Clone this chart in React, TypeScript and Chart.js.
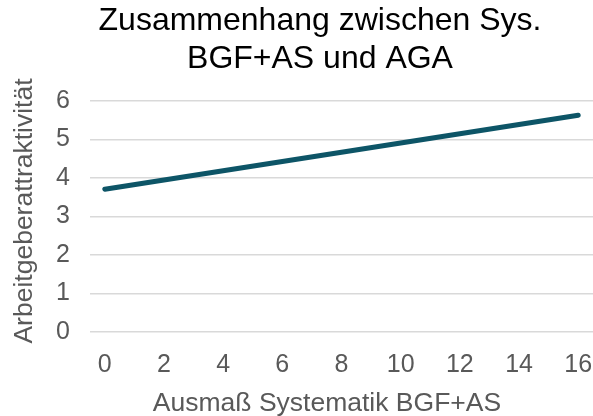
import React, { useEffect, useRef } from "react";
import { Chart, registerables } from "chart.js";

Chart.register(...registerables);

const xValues = [0, 16];
const yValues = [3.71, 5.63];
const xTicks = [0, 2, 4, 6, 8, 10, 12, 14, 16];
const titleLines = ["Zusammenhang zwischen Sys.", "BGF+AS und AGA"];
const xTitle = "Ausmaß Systematik BGF+AS";
const yTitle = "Arbeitgeberattraktivität";

const FONT = "'Liberation Sans', Arial, sans-serif";

const textPlugin = {
  id: "customTexts",
  afterDraw(chart: any) {
    const ctx = chart.ctx;
    ctx.save();
    ctx.fillStyle = "#000000";
    ctx.font = `32px ${FONT}`;
    ctx.textAlign = "center";
    ctx.textBaseline = "alphabetic";
    ctx.fillText(titleLines[0], 320, 30);
    ctx.fillText(titleLines[1], 320, 68);
    ctx.fillStyle = "#595959";
    ctx.font = `26.5px ${FONT}`;
    ctx.fillText(xTitle, 327, 411);
    ctx.translate(32, 211);
    ctx.rotate(-Math.PI / 2);
    ctx.fillText(yTitle, 0, 0);
    ctx.restore();
  },
};

export default function App() {
  const ref = useRef<HTMLCanvasElement>(null);
  useEffect(() => {
    if (!ref.current) return;
    const chart = new Chart(ref.current, {
      type: "line",
      data: {
        datasets: [
          {
            data: xValues.map((x, i) => ({ x, y: yValues[i] })),
            borderColor: "#0d5567",
            borderWidth: 5,
            pointRadius: 0,
            borderCapStyle: "round",
            fill: false,
          },
        ],
      },
      plugins: [textPlugin],
      options: {
        animation: false,
        responsive: false,
        layout: { padding: { left: 0, right: 0, top: 101, bottom: 0 } },
        plugins: {
          legend: { display: false },
          tooltip: { enabled: false },
          title: { display: false },
        },
        scales: {
          x: {
            type: "linear",
            min: -0.5,
            max: 16.5,
            afterBuildTicks: (axis: any) => {
              axis.ticks = xTicks.map((v) => ({ value: v }));
            },
            afterFit: (axis: any) => {
              axis.paddingLeft = 0;
              axis.paddingRight = 0;
              axis.height = 84;
            },
            grid: { display: false, drawTicks: false },
            border: { display: false },
            ticks: {
              color: "#595959",
              font: { family: FONT, size: 25 },
              padding: 18,
              autoSkip: false,
              maxRotation: 0,
            },
            title: { display: false },
          },
          y: {
            min: 0,
            max: 6,
            afterFit: (axis: any) => {
              axis.width = 90;
              axis.paddingTop = 0;
              axis.paddingBottom = 0;
            },
            ticks: {
              stepSize: 1,
              color: "#595959",
              font: { family: FONT, size: 25 },
              padding: 20,
            },
            grid: { color: "#d9d9d9", lineWidth: 1.5, drawTicks: false },
            border: { display: false },
            title: { display: false },
          },
        },
      },
    });
    return () => chart.destroy();
  }, []);
  return (
    <div style={{ position: "fixed", left: 0, top: 0, width: 593, height: 416, background: "#fff" }}>
      <canvas ref={ref} width={593} height={416} />
    </div>
  );
}
